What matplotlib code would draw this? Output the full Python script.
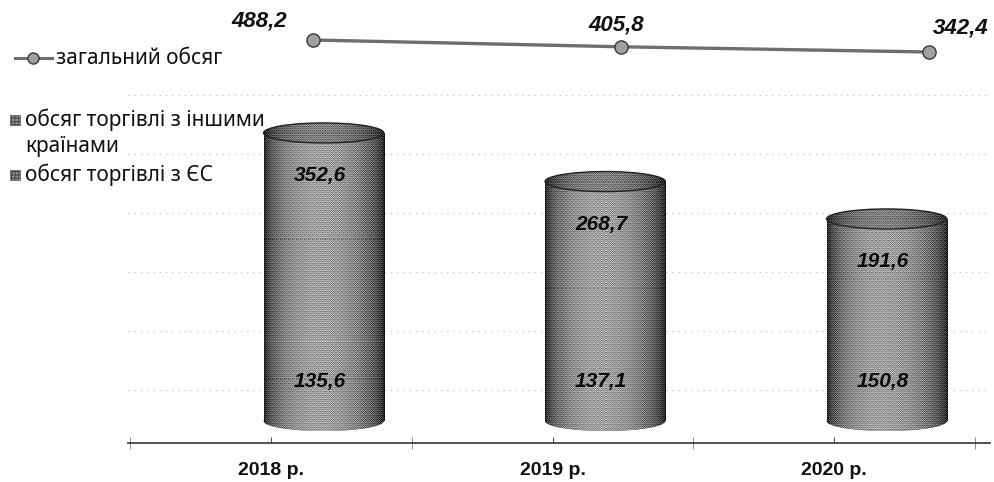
import numpy as np
import matplotlib
matplotlib.use('Agg')
import matplotlib.pyplot as plt
from matplotlib.patches import Ellipse, Rectangle
from matplotlib.lines import Line2D

plt.rcParams['font.family'] = ['Noto Sans', 'DejaVu Sans']
BOLD = ['Liberation Sans', 'DejaVu Sans']

# ---- data ----
years = ['2018 р.', '2019 р.', '2020 р.']
eu_trade = [135.6, 137.1, 150.8]
other_trade = [352.6, 268.7, 191.6]
total_trade = [488.2, 405.8, 342.4]
legend_labels = ['загальний обсяг', 'обсяг торгівлі з іншими\nкраїнами', 'обсяг торгівлі з ЄС']


def fmt(v):
    return f'{v:.1f}'.replace('.', ',')


W, H = 994, 482
fig = plt.figure(figsize=(W / 100, H / 100), dpi=100)


def px_rect(l, t, r, b):
    return [l / W, (H - b) / H, (r - l) / W, (b - t) / H]


# ---- main (cylinder) axes ----
AX_T, AX_B = 90, 443
YLIM = (-37.3, 561)
ax = fig.add_axes(px_rect(128, AX_T, 990, AX_B))
x = np.arange(len(years))
off, bw = 0.187, 0.427
xc = x + off
eh = 34  # ellipse height in data units
px_per_unit = (AX_B - AX_T) / (YLIM[1] - YLIM[0])

nx = 120
t = np.linspace(0, 1, nx)
prof = 0.08 + 0.55 * np.sin(np.pi * t ** 0.9) ** 0.5
bayer = np.array([[0, 8, 2, 10], [12, 4, 14, 6], [3, 11, 1, 9], [15, 7, 13, 5]]) / 16.0 - 0.47


def texture(nrows, scale=1.0):
    pat = np.tile(bayer, (nrows // 4 + 1, nx // 4))[:nrows]
    return np.clip(scale * prof[None, :] + 0.4 * pat, 0, 1)


def tex_fill(patch, x0, x1, y0, y1, g, z):
    img = ax.imshow(g, extent=[x0, x1, y0, y1], aspect='auto', cmap='gray',
                    vmin=0, vmax=1, interpolation='nearest', zorder=z)
    img.set_clip_path(patch)


b1 = ax.bar(xc, eu_trade, bw, color='#777777', zorder=2, linewidth=0)
b2 = ax.bar(xc, other_trade, bw, bottom=eu_trade, color='#777777', zorder=2, linewidth=0)

for i in range(len(years)):
    top = eu_trade[i] + other_trade[i]
    y0, y1 = -eh / 2, top + eh / 2
    body = texture(int(round((y1 - y0) * px_per_unit)))
    e_bot = Ellipse((xc[i], 0), bw, eh, facecolor='#666666', edgecolor='none', zorder=2.5)
    ax.add_patch(e_bot)
    tex_fill(e_bot, xc[i] - bw / 2, xc[i] + bw / 2, y0, y1, body, 2.6)
    for p in (b1.patches[i], b2.patches[i]):
        tex_fill(p, xc[i] - bw / 2, xc[i] + bw / 2, y0, y1, body, 3)
    e_top = Ellipse((xc[i], top), bw, eh, facecolor='#444444', edgecolor='none', zorder=4)
    ax.add_patch(e_top)
    tex_fill(e_top, xc[i] - bw / 2, xc[i] + bw / 2, top - eh / 2, top + eh / 2,
             texture(int(round(eh * px_per_unit)), 0.8), 4.1)
    ax.add_patch(Ellipse((xc[i], top), bw, eh, facecolor='none', edgecolor='#222222',
                         linewidth=1.0, zorder=4.2))

    ax.annotate(fmt(other_trade[i]), (xc[i], top), xytext=(-4, -43), textcoords='offset pixels',
                ha='center', va='center', fontsize=15, fontweight='bold', style='italic',
                family=BOLD, color='#0a0a0a', zorder=6)
    ax.annotate(fmt(eu_trade[i]), (xc[i], 0), xytext=(-4, 39), textcoords='offset pixels',
                ha='center', va='center', fontsize=15, fontweight='bold', style='italic',
                family=BOLD, color='#0a0a0a', zorder=6)

ax.set_xlim(-0.508, 2.554)
ax.set_ylim(*YLIM)

ax.set_yticks(np.arange(0, 600, 100) + 52)
ax.tick_params(axis='y', left=False, labelleft=False)
ax.grid(axis='y', color='#c4c4c4', linestyle=(0, (1, 4)), linewidth=0.9)
ax.set_axisbelow(True)

ax.set_xticks(x)
ax.set_xticklabels(years, fontsize=14, fontweight='bold', color='#111111', family=BOLD)
ax.set_xticks([-0.5, 0.5, 1.5, 2.5], minor=True)
ax.tick_params(axis='x', which='major', direction='in', length=4, color='#555555', pad=14)
ax.tick_params(axis='x', which='minor', direction='inout', length=8, color='#777777')
for s in ('left', 'right', 'top'):
    ax.spines[s].set_visible(False)
ax.spines['bottom'].set_color('#444444')
ax.spines['bottom'].set_linewidth(1.3)

# ---- line (total) axes ----
ax2 = fig.add_axes(px_rect(313, 30, 929, 60))
ax2.set_xlim(0, 2)
ax2.set_ylim(245.2, 609.7)
ax2.axis('off')
ax2.plot(x, total_trade, color='#6e6e6e', linewidth=2.4, marker='o', markersize=9.5,
         markerfacecolor='#a0a0a0', markeredgecolor='#3a3a3a', markeredgewidth=1.0,
         clip_on=False)
lab_off = [(-54, 19), (-5, 22), (32, 24)]
for i in range(len(years)):
    ax2.annotate(fmt(total_trade[i]), (x[i], total_trade[i]), xytext=lab_off[i],
                 textcoords='offset pixels', ha='center', va='center', fontsize=16,
                 fontweight='bold', style='italic', family=BOLD, color='#111111',
                 annotation_clip=False)

# ---- legend ----
lax = fig.add_axes([0, 0, 1, 1])
lax.set_xlim(0, W)
lax.set_ylim(H, 0)
lax.axis('off')
lax.add_line(Line2D([15, 52], [58, 58], color='#6e6e6e', linewidth=2.2))
lax.add_line(Line2D([33], [58], marker='o', markersize=8, markerfacecolor='#a0a0a0',
                    markeredgecolor='#3a3a3a', markeredgewidth=1.0))
lax.text(56, 58, legend_labels[0], fontsize=15, va='center', ha='left', color='#111111')
for yy, lab in zip([120, 175], legend_labels[1:]):
    lax.add_patch(Rectangle((10, yy - 5), 10, 10, facecolor='#9a9a9a', edgecolor='#555555',
                            hatch='+++++', linewidth=0.5))
    lax.text(25, yy - 11, lab, fontsize=15, va='top', ha='left', color='#111111',
             linespacing=1.3)

fig.savefig('out.png', dpi=100)
